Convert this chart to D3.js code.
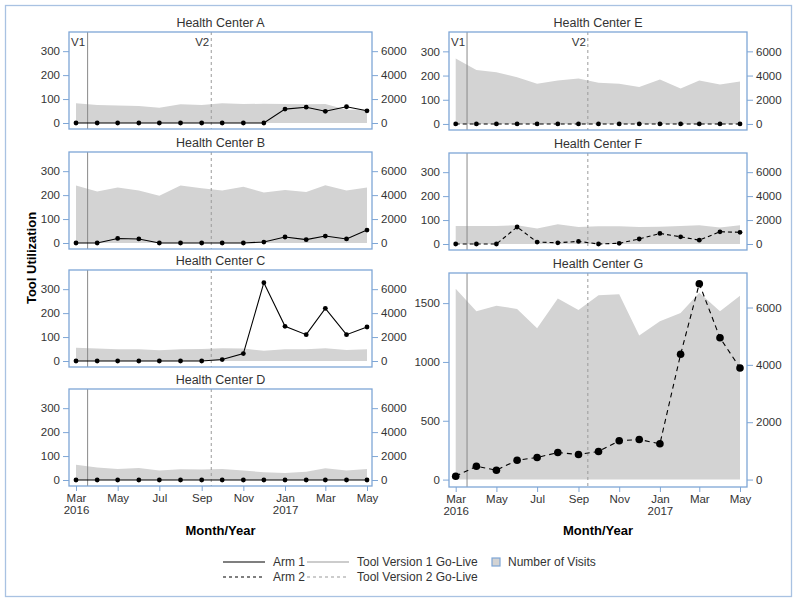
<!doctype html>
<html>
  <head>
    <script src="https://cdnjs.cloudflare.com/ajax/libs/d3/7.8.5/d3.min.js"></script>
    <style>
      body { margin: 0; background: #fff; }
      text { font-family: "Liberation Sans", Arial, sans-serif; fill: #333; }
      .title { font-size: 12.5px; text-anchor: middle; }
      .tick text { font-size: 11.5px; fill: #333; }
      .tick line, .domain { stroke: #7ea6d6; }
      .frame { fill: none; stroke: #7ea6d6; stroke-width: 1.3px; }
      .visits { fill: #d3d3d3; }
      .axlab { font-size: 13px; font-weight: bold; fill: #000; text-anchor: middle; }
      .leg { font-size: 12px; }
    </style>
  </head>
  <body>
    <svg id="chart" width="800" height="601"></svg>
    <script>
      // months Mar 2016 .. May 2017
      var months = ["2016-03-01","2016-04-01","2016-05-01","2016-06-01","2016-07-01","2016-08-01","2016-09-01",
                    "2016-10-01","2016-11-01","2016-12-01","2017-01-01","2017-02-01","2017-03-01","2017-04-01","2017-05-01"];
      var goLive = ["2016-03-18", "2016-09-15"];

      var useA = [0,0,0,0,0,0,0,0,0,0,58,66,49,68,51];
      var visitsA = [1640,1500,1470,1420,1280,1560,1500,1640,1580,1610,1580,1560,1580,1100,1100];
      var useB = [0,0,19,17,0,0,0,0,0,4,25,14,29,17,54];
      var visitsB = [4800,4300,4640,4390,3950,4800,4580,4390,4690,4220,4420,4250,4830,4390,4640];
      var useC = [0,0,0,0,0,0,0,6,31,327,145,110,220,110,142];
      var visitsC = [1100,1040,990,990,900,990,1010,1070,1040,850,990,990,1070,930,990];
      var useD = [0,0,0,0,0,0,0,0,0,0,0,0,0,0,0];
      var visitsD = [1270,1040,930,1010,790,900,870,930,790,650,590,700,990,790,930];
      var useE = [0,0,0,0,0,0,0,0,0,0,0,0,0,0,0];
      var visitsE = [5400,4460,4270,3860,3320,3600,3760,3400,3320,3050,3680,2920,3600,3270,3510];
      var useF = [0,0,0,71,8,5,11,0,3,21,44,30,16,51,49];
      var visitsF = [1510,1510,1510,1560,1290,1640,1420,1480,1480,1420,1450,1510,1560,1370,1560];
      var useG = [28,114,80,165,188,230,213,239,330,341,304,1065,1665,1205,949];
      var visitsG = [6650,5870,6060,5950,5280,6310,5910,6430,6460,5020,5520,5810,6510,5870,6410];

      var leftTicks = [0,100,200,300], leftTicksG = [0,500,1000,1500];
      var rightTicks = [0,2000,4000,6000];
      var xTickLabels = ["Mar\n2016","May","Jul","Sep","Nov","Jan\n2017","Mar","May"];

      var parse = d3.timeParse("%Y-%m-%d");
      var dates = months.map(parse);
      var lines = goLive.map(parse);
      var fmt = d3.format("d");

      var svg = d3.select("#chart");
      svg.append("rect").attr("x", 5.5).attr("y", 5.5).attr("width", 786).attr("height", 591)
        .attr("fill", "none").attr("stroke", "#a9c2e2").attr("stroke-width", 1.3);

      var panels = [
        {name: "Health Center A", use: useA, vis: visitsA, col: 0, top: 32, h: 97, arm: 1, labels: true},
        {name: "Health Center B", use: useB, vis: visitsB, col: 0, top: 152, h: 97, arm: 1},
        {name: "Health Center C", use: useC, vis: visitsC, col: 0, top: 270, h: 97, arm: 1},
        {name: "Health Center D", use: useD, vis: visitsD, col: 0, top: 389, h: 97, arm: 1, xaxis: true},
        {name: "Health Center E", use: useE, vis: visitsE, col: 1, top: 32, h: 98, arm: 2, labels: true},
        {name: "Health Center F", use: useF, vis: visitsF, col: 1, top: 153, h: 97, arm: 2},
        {name: "Health Center G", use: useG, vis: visitsG, col: 1, top: 273, h: 214, arm: 2, xaxis: true, big: true}
      ];
      var cols = [
        {x0: 69, x1: 372, r: [76, 367]},
        {x0: 449, x1: 747, r: [455.7, 740]}
      ];

      panels.forEach(function(p) {
        var c = cols[p.col];
        var x = d3.scaleTime().domain([dates[0], dates[dates.length - 1]]).range(c.r);
        var y = d3.scaleLinear().domain(p.big ? [-63, 1756] : [-25, 380]).range([p.top + p.h, p.top]);
        var y2 = d3.scaleLinear().domain(p.big ? [-259, 7203] : [-500, 7600]).range([p.top + p.h, p.top]);
        var g = svg.append("g");
        var data = dates.map(function(d, i) { return {d: d, u: p.use[i], v: p.vis[i]}; });

        g.append("path").datum(data).attr("class", "visits")
          .attr("d", d3.area().x(function(e) { return x(e.d); }).y0(y2(0)).y1(function(e) { return y2(e.v); }));

        lines.forEach(function(l, i) {
          g.append("line").attr("x1", x(l)).attr("x2", x(l)).attr("y1", p.top).attr("y2", p.top + p.h)
            .attr("stroke", i === 0 ? "#8a8a8a" : "#9a9a9a").attr("stroke-width", 1)
            .attr("stroke-dasharray", i === 0 ? null : "3,3");
          if (p.labels) {
            g.append("text").attr("x", i === 0 ? c.x0 + 2 : x(l) - 2).attr("y", p.top + 14)
              .attr("text-anchor", i === 0 ? "start" : "end").style("font-size", "11.5px")
              .text(i === 0 ? "V1" : "V2");
          }
        });

        g.append("path").datum(data).attr("fill", "none").attr("stroke", "#000").attr("stroke-width", 1.1)
          .attr("stroke-dasharray", p.arm === 2 ? (p.big ? "5,4" : "4,3") : null)
          .attr("d", d3.line().x(function(e) { return x(e.d); }).y(function(e) { return y(e.u); }));
        g.selectAll("circle").data(data).join("circle")
          .attr("cx", function(e) { return x(e.d); }).attr("cy", function(e) { return y(e.u); })
          .attr("r", p.big ? 3.8 : 2.4).attr("fill", "#000");

        g.append("rect").attr("class", "frame").attr("x", c.x0).attr("y", p.top)
          .attr("width", c.x1 - c.x0).attr("height", p.h);

        var la = g.append("g").attr("transform", "translate(" + c.x0 + ",0)")
          .call(d3.axisLeft(y).tickValues(p.big ? leftTicksG : leftTicks).tickFormat(fmt).tickSize(6).tickPadding(3));
        la.select(".domain").remove();
        var ra = g.append("g").attr("transform", "translate(" + c.x1 + ",0)")
          .call(d3.axisRight(y2).tickValues(rightTicks).tickFormat(fmt).tickSize(6).tickPadding(3));
        ra.select(".domain").remove();

        g.append("text").attr("class", "title").attr("x", (c.x0 + c.x1) / 2).attr("y", p.top - 5).text(p.name);

        if (p.xaxis) {
          var tickDates = dates.filter(function(d, i) { return i % 2 === 0; });
          var xa = g.append("g").attr("transform", "translate(0," + (p.top + p.h) + ")")
            .call(d3.axisBottom(x).tickValues(tickDates).tickSize(5).tickPadding(3).tickFormat(""));
          xa.select(".domain").remove();
          xa.selectAll(".tick text").each(function(d, i) {
            var parts = xTickLabels[i].split("\n");
            var t = d3.select(this);
            parts.forEach(function(s, k) {
              t.append("tspan").attr("x", 0).attr("dy", k === 0 ? "0.71em" : "1.05em").text(s);
            });
          });
          g.append("text").attr("class", "axlab").attr("x", (c.x0 + c.x1) / 2).attr("y", 535).text("Month/Year");
        }
      });

      svg.append("text").attr("class", "axlab").attr("transform", "translate(36,258) rotate(-90)")
        .text("Tool Utilization");

      // legend
      var leg = svg.append("g");
      var legItems = [
        {x: 223, y: 562, dash: null, col: "#000", label: "Arm 1"},
        {x: 223, y: 577, dash: "3,3", col: "#000", label: "Arm 2"},
        {x: 307, y: 562, dash: null, col: "#9a9a9a", label: "Tool Version 1 Go-Live"},
        {x: 307, y: 577, dash: "3,3", col: "#9a9a9a", label: "Tool Version 2 Go-Live"}
      ];
      legItems.forEach(function(it) {
        leg.append("line").attr("x1", it.x).attr("x2", it.x + 42).attr("y1", it.y).attr("y2", it.y)
          .attr("stroke", it.col).attr("stroke-width", 1.1).attr("stroke-dasharray", it.dash);
        leg.append("text").attr("class", "leg").attr("x", it.x + 50).attr("y", it.y + 4).text(it.label);
      });
      leg.append("rect").attr("x", 492).attr("y", 558).attr("width", 8).attr("height", 8)
        .attr("fill", "#d3d3d3").attr("stroke", "#7ea6d6").attr("stroke-width", 1.2);
      leg.append("text").attr("class", "leg").attr("x", 508).attr("y", 566).text("Number of Visits");
    </script>
  </body>
</html>
